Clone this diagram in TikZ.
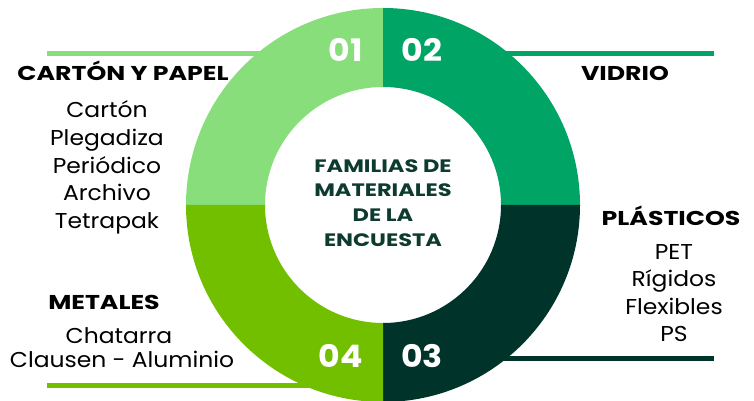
\documentclass[tikz,border=0pt]{standalone}
\usepackage{fontspec}
\setmainfont{Poppins}
\newfontfamily\headfont[FakeStretch=1.26]{Poppins}
\newfontfamily\ctrfont[FakeStretch=1.25]{Poppins}
\newfontfamily\itemfont[FakeStretch=1.09]{Poppins}
\newfontfamily\numfont[FakeStretch=1.07]{Poppins}
\usetikzlibrary{calc}
\definecolor{cA}{HTML}{88DE7A}
\definecolor{cB}{HTML}{00A565}
\definecolor{cC}{HTML}{00332A}
\definecolor{cD}{HTML}{72BF00}
\definecolor{ctext}{HTML}{0E3B30}
\tikzset{
  head/.style={anchor=base, inner sep=0pt, font=\headfont\fontsize{20}{20}\selectfont\bfseries, text=black},
  item/.style={anchor=base, inner sep=0pt, font=\itemfont\fontsize{21.5}{21.5}\selectfont, text=black},
  ctr/.style={anchor=base, inner sep=0pt, font=\ctrfont\fontsize{18}{18}\selectfont\bfseries, text=ctext},
  num/.style={anchor=base, inner sep=0pt, font=\numfont\fontsize{31}{31}\selectfont\bfseries, text=white},
  bar/.style={line width=5pt}
}
\begin{document}
\begin{tikzpicture}[x=1pt,y=1pt]
\useasboundingbox (0,0) rectangle (754,401);
\def\R{197}
\def\r{118}
\coordinate (C) at (383,196);
% bars behind ring
\coordinate (tl) at (47,347);
\coordinate (tr) at (714,347);
\coordinate (br) at (714,42);
\coordinate (bl) at (47,15);
\draw[bar,cA] (tl) -- (C |- tl);
\draw[bar,cB] (tr) -- (C |- tr);
\draw[bar,cC] (br) -- (C |- br);
\draw[bar,cD] (bl) -- (C |- bl);
% ring
\fill[cA] ($(C)+(90:\R)$) arc[start angle=90,end angle=180,radius=\R] -- ($(C)+(180:\r)$) arc[start angle=180,end angle=90,radius=\r] -- cycle;
\fill[cB] ($(C)+(0:\R)$) arc[start angle=0,end angle=90,radius=\R] -- ($(C)+(90:\r)$) arc[start angle=90,end angle=0,radius=\r] -- cycle;
\fill[cC] ($(C)+(-90:\R)$) arc[start angle=-90,end angle=0,radius=\R] -- ($(C)+(0:\r)$) arc[start angle=0,end angle=-90,radius=\r] -- cycle;
\fill[cD] ($(C)+(180:\R)$) arc[start angle=180,end angle=270,radius=\R] -- ($(C)+(270:\r)$) arc[start angle=270,end angle=180,radius=\r] -- cycle;
% numbers
\node[num] (n1) at (346,339) {01};
\node[num] (n2) at (422,339) {02};
\node[num] (n3) at (422,33) {03};
\node[num] (n4) at (341,33) {04};
% centre
\node[ctr] (c1) at (383,228) {FAMILIAS DE};
\node[ctr] (c2) at (383,204) {MATERIALES};
\node[ctr] (c3) at (383,179) {DE LA};
\node[ctr] (c4) at (383,154) {ENCUESTA};
% headings
\node[head] (h1) at (123,320) {CARTÓN Y PAPEL};
\node[head] (h2) at (625,320) {VIDRIO};
\node[head] (h3) at (671,175) {PLÁSTICOS};
\node[head] (h4) at (104,91) {METALES};
% items
\node[item] (a1) at (107,283) {Cartón};
\node[item] (a2) at (107,255) {Plegadiza};
\node[item] (a3) at (107,227) {Periódico};
\node[item] (a4) at (107,200) {Archivo};
\node[item] (a5) at (107,172) {Tetrapak};
\node[item] (p1) at (674,141) {PET};
\node[item] (p2) at (674,114) {Rígidos};
\node[item] (p3) at (674,86) {Flexibles};
\node[item] (p4) at (674,59) {PS};
\node[item] (m1) at (119,57) {Chatarra};
\node[item] (m2) at (122,33) {Clausen - Aluminio};
\end{tikzpicture}
\end{document}
